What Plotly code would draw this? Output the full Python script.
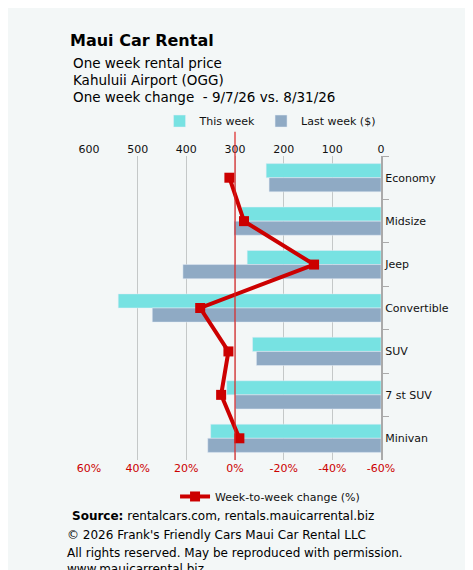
import plotly.graph_objects as go

categories = ["Economy", "Midsize", "Jeep", "Convertible", "SUV", "7 st SUV", "Minivan"]
this_week = [236, 286, 275, 540, 264, 317, 350]
last_week = [230, 302, 407, 470, 256, 300, 356]
change_pct = [2.3, -3.7, -32.5, 14.3, 2.7, 5.7, -1.8]
pct_ticks = [60, 40, 20, 0, -20, -40, -60]
pct_labels = ["60%", "40%", "20%", "0%", "-20%", "-40%", "-60%"]

F = "DejaVu Sans"
fig = go.Figure()
fig.add_bar(y=categories, x=this_week, orientation="h", name="This week",
            marker_color="#77e2e2", legend="legend")
fig.add_bar(y=categories, x=last_week, orientation="h", name="Last week ($)",
            marker_color="#8faac4", legend="legend")
fig.add_scatter(y=categories, x=change_pct, xaxis="x2", mode="lines+markers",
                name="Week-to-week change (%)", line=dict(color="#cc0000", width=4),
                marker=dict(symbol="square", size=10, color="#cc0000"), legend="legend2")

fig.update_layout(
    width=473, height=570, margin=dict(l=81, r=100, t=148, b=118, autoexpand=False),
    paper_bgcolor="#f3f7f7", plot_bgcolor="#f3f7f7",
    font=dict(family=F, size=11, color="#111"),
    barmode="group", bargap=0.35, bargroupgap=0.0,
    xaxis=dict(side="top", range=[600, 0], tickvals=[600, 500, 400, 300, 200, 100, 0],
               showgrid=False, zeroline=False, ticks="", automargin=False),
    xaxis2=dict(overlaying="x", side="bottom", range=[60, -60], tickvals=pct_ticks,
                ticktext=pct_labels, tickfont=dict(color="#cc0000"), automargin=False,
                showgrid=True, gridcolor="#c4c8c8", gridwidth=1, zeroline=False),
    yaxis=dict(side="right", autorange="reversed", tickson="boundaries", ticks="outside",
               ticklen=6, tickcolor="#aaa", showline=True, linecolor="#aaa", linewidth=2,
               automargin=False),
    legend=dict(orientation="h", x=0.62, xanchor="center", y=1.115, yanchor="middle",
                bgcolor="rgba(0,0,0,0)", font=dict(size=11), traceorder="normal"),
    legend2=dict(orientation="h", x=0.62, xanchor="center", y=-0.12, yanchor="middle",
                 bgcolor="rgba(0,0,0,0)", font=dict(size=11)),
    shapes=[dict(type="line", xref="x2", yref="paper", x0=0, x1=0, y0=0, y1=1.08,
                 line=dict(color="#dd2222", width=1.2))],
)
ann = [
    ("<b>Maui Car Rental</b>", 60, 33, 16),
    ("One week rental price", 63, 55, 13.5),
    ("Kahuluii Airport (OGG)", 63, 72, 13.5),
    ("One week change  - 9/7/26 vs. 8/31/26", 63, 89, 13.5),
    ("<b>Source:</b> rentalcars.com, rentals.mauicarrental.biz", 62, 508, 12),
    ("© 2026 Frank's Friendly Cars Maui Car Rental LLC", 57, 527, 12),
    ("All rights reserved. May be reproduced with permission.", 57, 545, 12),
    ("www.mauicarrental.biz", 57, 561, 12),
]
for t, x, y, s in ann:
    fig.add_annotation(text=t, xref="paper", yref="paper", x=(x - 81) / 292,
                       y=1 - (y - 148) / 304, xanchor="left", yanchor="middle",
                       showarrow=False, font=dict(size=s, family=F, color="#000"))
fig.write_html("out.html")
